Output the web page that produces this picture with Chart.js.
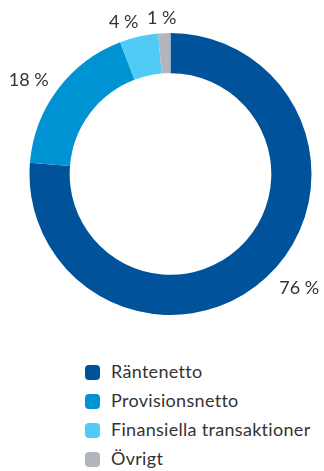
<!DOCTYPE html>
<html>
<head>
<meta charset="utf-8">
<script src="https://cdn.jsdelivr.net/npm/chart.js@4"></script>
<style>
  body { margin: 0; background: #fff; font-family: Lato, "Open Sans", sans-serif; }
  #wrap { position: relative; width: 324px; height: 471px; }
  #pie { position: absolute; left: 0; top: 0; width: 324px; height: 335px; }
  #legend { position: absolute; left: 85px; top: 357px; margin: 0; padding: 0; list-style: none; }
  #legend li { height: 29px; line-height: 29px; font-size: 18px; letter-spacing: 0.3px; color: #333; white-space: nowrap; }
  #legend span { display: inline-block; width: 15px; height: 15px; border-radius: 4px; margin-right: 11px; vertical-align: -2px; }
</style>
</head>
<body>
<div id="wrap">
  <canvas id="pie" width="324" height="335"></canvas>
  <ul id="legend"></ul>
</div>
<script>
var labels = ['Räntenetto', 'Provisionsnetto', 'Finansiella transaktioner', 'Övrigt']
var values = [76.2, 17.9, 4.4, 1.4]
var colors = ['#00539B', '#0093D3', '#4FCBF6', '#B1B6BD']

// percentage labels just outside the ring, at each slice's middle angle
var outsideLabels = {
  id: 'outsideLabels',
  afterDatasetsDraw: function(chart) {
    var ctx = chart.ctx
    var meta = chart.getDatasetMeta(0)
    ctx.save()
    ctx.font = '18px Lato, "Open Sans", sans-serif'
    ctx.fillStyle = '#333'
    ctx.textBaseline = 'middle'
    meta.data.forEach(function(arc, i) {
      var p = arc.getProps(['x', 'y', 'startAngle', 'endAngle', 'outerRadius'], true)
      var mid = (p.startAngle + p.endAngle) / 2
      var r = p.outerRadius + 15
      var c = Math.cos(mid)
      var x = p.x + c * r
      if (Math.abs(c) < 0.1) {
        ctx.textAlign = 'center'
        x -= 2
      } else {
        ctx.textAlign = c > 0 ? 'left' : 'right'
        x += 3
      }
      ctx.fillText(Math.round(values[i]) + ' %', x, p.y + Math.sin(mid) * r)
    })
    ctx.restore()
  }
}

var pieChart = new Chart(document.getElementById('pie'), {
  type: 'doughnut',
  data: {
    labels: labels,
    datasets: [{
      data: values,
      backgroundColor: colors,
      borderWidth: 0,
      hoverOffset: 0
    }]
  },
  options: {
    responsive: false,
    animation: false,
    cutout: '71.5%',
    layout: { padding: { left: 28, right: 11, top: 33, bottom: 20 } },
    plugins: {
      legend: { display: false },
      tooltip: { enabled: false }
    }
  },
  plugins: [outsideLabels]
})

// legend list built from the chart's own legend items
var items = pieChart.options.plugins.legend.labels.generateLabels(pieChart)
var ul = document.getElementById('legend')
items.forEach(function(it) {
  var li = document.createElement('li')
  var box = document.createElement('span')
  box.style.background = it.fillStyle
  li.appendChild(box)
  li.appendChild(document.createTextNode(it.text))
  ul.appendChild(li)
})
</script>
</body>
</html>
